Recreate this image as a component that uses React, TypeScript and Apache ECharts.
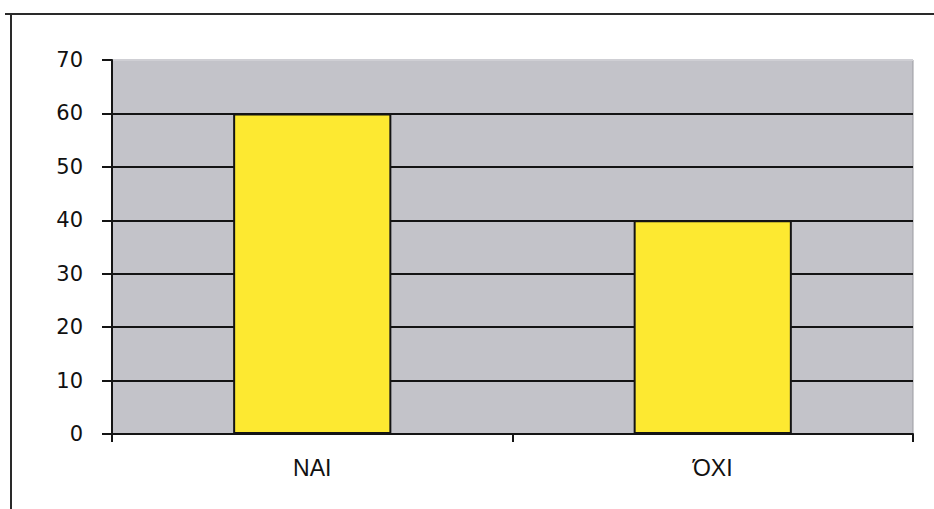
import React, { useEffect, useRef } from "react";
import * as echarts from "echarts";

// Survey answers and their percentages
const categories: string[] = ["ΝΑΙ", "ΌΧΙ"];
const values: number[] = [60, 40];
const yTicks: number[] = [0, 10, 20, 30, 40, 50, 60, 70];

const Y_FONT = "'DejaVu Sans', 'Liberation Sans', Arial, sans-serif";
const X_FONT = "'Liberation Sans', Arial, sans-serif";

export default function App() {
  const ref = useRef<HTMLDivElement>(null);

  useEffect(() => {
    if (!ref.current) return;
    const chart = echarts.init(ref.current, null, { renderer: "svg" });

    // Gridlines are black except the top one, which blends into the plot frame
    const gridColors = yTicks.map((_, i) => (i === yTicks.length - 1 ? "#cfcfd4" : "#141414"));

    chart.setOption({
      animation: false,
      backgroundColor: "#ffffff",
      grid: {
        left: 112,
        right: 21,
        top: 60,
        bottom: 75,
        show: true,
        backgroundColor: "#c3c3c9",
        borderColor: "#9a9aa0",
        borderWidth: 1,
      },
      xAxis: {
        type: "category",
        data: categories,
        axisLine: { show: true, lineStyle: { color: "#141414", width: 2 } },
        axisTick: { show: true, length: 8, lineStyle: { color: "#141414", width: 2 } },
        axisLabel: {
          margin: 22,
          color: "#111111",
          fontSize: 23,
          fontFamily: X_FONT,
        },
      },
      yAxis: {
        type: "value",
        min: 0,
        max: 70,
        interval: 10,
        axisLine: { show: true, lineStyle: { color: "#141414", width: 2 } },
        axisTick: { show: true, length: 10, lineStyle: { color: "#141414", width: 2 } },
        axisLabel: {
          margin: 29,
          color: "#111111",
          fontSize: 21,
          fontFamily: Y_FONT,
        },
        splitLine: { show: true, lineStyle: { color: gridColors, width: 2 } },
      },
      series: [
        {
          type: "bar",
          data: values,
          barWidth: "39.5%",
          itemStyle: {
            color: "#fde931",
            borderColor: "#141414",
            borderWidth: 2,
          },
        },
      ],
      graphic: [
        // outer frame: top and left edges
        {
          type: "line",
          shape: { x1: 5, y1: 14, x2: 934, y2: 14 },
          style: { stroke: "#2a2a2a", lineWidth: 2 },
          silent: true,
        },
        {
          type: "line",
          shape: { x1: 11, y1: 14, x2: 11, y2: 509 },
          style: { stroke: "#2a2a2a", lineWidth: 2 },
          silent: true,
        },
      ],
    });

    return () => chart.dispose();
  }, []);

  return (
    <div
      ref={ref}
      style={{ position: "fixed", left: 0, top: 0, width: 934, height: 509 }}
    />
  );
}
